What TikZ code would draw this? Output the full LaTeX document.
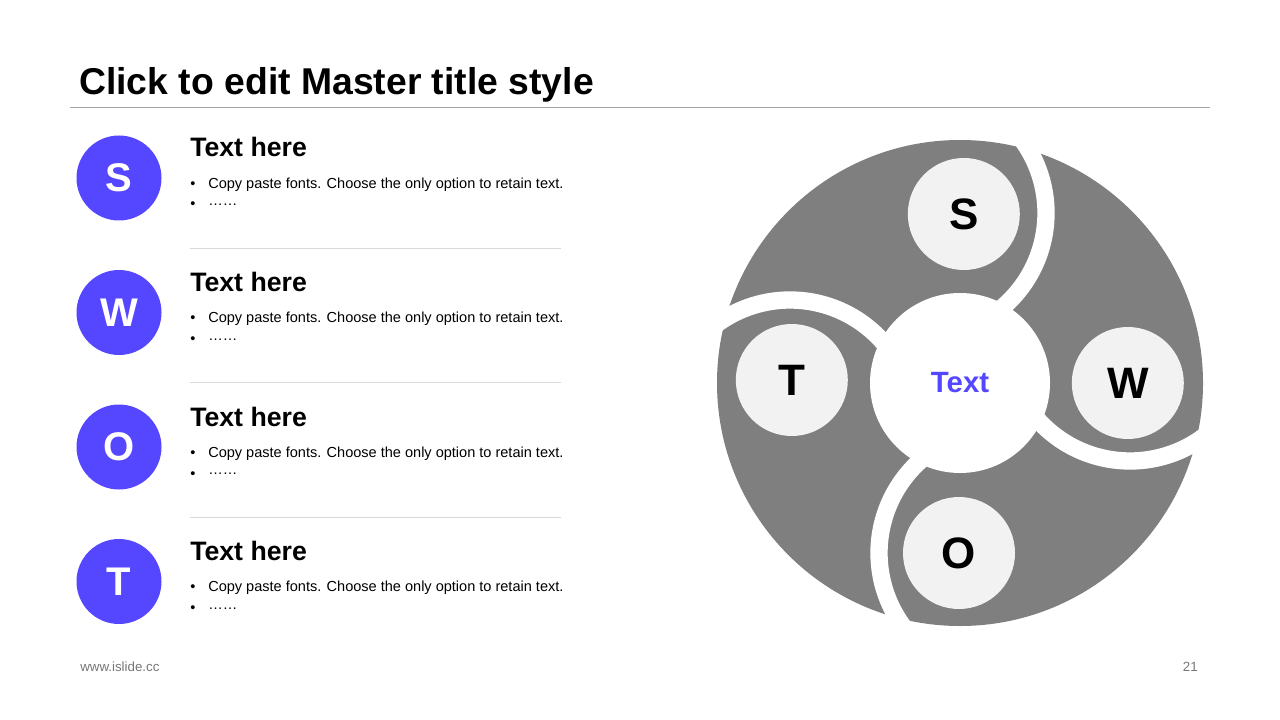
\documentclass[tikz,border=0pt]{standalone}
\usepackage{fontspec}
\setmainfont{Liberation Sans}
\usetikzlibrary{positioning,calc}

\definecolor{swotblue}{RGB}{85,70,255}
\definecolor{wheelgray}{RGB}{127,127,127}
\definecolor{discfill}{RGB}{242,242,242}
\definecolor{rulegray}{RGB}{166,166,166}
\definecolor{sepgray}{RGB}{217,217,217}
\definecolor{footgray}{RGB}{118,118,118}

\begin{document}
\begin{tikzpicture}[x=0.75pt, y=0.75pt,
  letterdot/.style={circle, fill=swotblue, minimum size=63.75pt, inner sep=0pt, text=white, font=\fontsize{30}{30}\selectfont\bfseries},
  heading/.style={anchor=base west, inner sep=0pt, font=\fontsize{20}{24}\selectfont\bfseries},
  bulletline/.style={anchor=base west, inner sep=0pt, font=\fontsize{10.9}{13}\selectfont},
  sepline/.style={sepgray, line width=0.75pt},
  disc/.style={circle, fill=discfill, minimum size=84pt, inner sep=0pt, font=\fontsize{33}{33}\selectfont\bfseries},
  gap/.style={white, line width=13pt},
  foot/.style={inner sep=0pt, text=footgray, font=\fontsize{10}{12}\selectfont}
]
\useasboundingbox (0,0) rectangle (1280,-720);

% title
\node[anchor=base west, inner sep=0pt, font=\fontsize{28}{28}\selectfont\bfseries] (title) at (79,-95) {Click to edit Master title style};
\draw[rulegray, line width=0.75pt] (70,-108) -- (1210,-108);

% left list
\node[letterdot] (sdot) at (119,-178) {S};
\node[letterdot] (wdot) at (119,-312.5) {W};
\node[letterdot] (odot) at (119,-447) {O};
\node[letterdot] (tdot) at (119,-581.5) {T};

\node[heading] (shead) at ($(sdot)+(71,21)$) {Text here};
\node[bulletline] (sone) at ($(sdot)+(71,-10.3)$) {\makebox[13.5pt][l]{\textbullet}Copy paste fonts. Choose the only option to retain text.};
\node[bulletline] (stwo) at ($(sdot)+(71,-31)$) {\makebox[13.5pt][l]{\textbullet}\raisebox{2.5pt}{……}};
\draw[sepline] ($(sdot)+(71,-70.3)$) -- ($(sdot)+(442,-70.3)$);

\node[heading] (whead) at ($(wdot)+(71,21)$) {Text here};
\node[bulletline] (wone) at ($(wdot)+(71,-10.3)$) {\makebox[13.5pt][l]{\textbullet}Copy paste fonts. Choose the only option to retain text.};
\node[bulletline] (wtwo) at ($(wdot)+(71,-31)$) {\makebox[13.5pt][l]{\textbullet}\raisebox{2.5pt}{……}};
\draw[sepline] ($(wdot)+(71,-70.3)$) -- ($(wdot)+(442,-70.3)$);

\node[heading] (ohead) at ($(odot)+(71,21)$) {Text here};
\node[bulletline] (oone) at ($(odot)+(71,-10.3)$) {\makebox[13.5pt][l]{\textbullet}Copy paste fonts. Choose the only option to retain text.};
\node[bulletline] (otwo) at ($(odot)+(71,-31)$) {\makebox[13.5pt][l]{\textbullet}\raisebox{2.5pt}{……}};
\draw[sepline] ($(odot)+(71,-70.3)$) -- ($(odot)+(442,-70.3)$);

\node[heading] (thead) at ($(tdot)+(71,21)$) {Text here};
\node[bulletline] (tone) at ($(tdot)+(71,-10.3)$) {\makebox[13.5pt][l]{\textbullet}Copy paste fonts. Choose the only option to retain text.};
\node[bulletline] (ttwo) at ($(tdot)+(71,-31)$) {\makebox[13.5pt][l]{\textbullet}\raisebox{2.5pt}{……}};

% wheel
\coordinate (hub) at (960,-383);
\fill[wheelgray] (hub) circle[radius=243];
\draw[gap] ($(hub)+(-38,170)$) ++(45:124) arc[start angle=45, end angle=-62, radius=124];
\draw[gap] ($(hub)+(170,46)$) ++(-45:124) arc[start angle=-45, end angle=-152, radius=124];
\draw[gap] ($(hub)+(43,-170)$) ++(-135:124) arc[start angle=-135, end angle=-242, radius=124];
\draw[gap] ($(hub)+(-170,-41)$) ++(135:124) arc[start angle=135, end angle=28, radius=124];

\node[circle, fill=white, minimum size=135pt, inner sep=0pt, text=swotblue, font=\fontsize{22}{22}\selectfont\bfseries] (core) at (hub) {Text};
\node[disc] (sdisc) at (963.8,-214) {S};
\node[disc] (wdisc) at (1127.8,-383) {W};
\node[disc] (odisc) at (959,-553) {O};
\node[disc] (tdisc) at (791.8,-380) {T};

% footer
\node[foot, anchor=base west] (site) at (80,-671) {www.islide.cc};
\node[foot, anchor=base east] (pageno) at (1198,-671) {21};

\end{tikzpicture}
\end{document}
